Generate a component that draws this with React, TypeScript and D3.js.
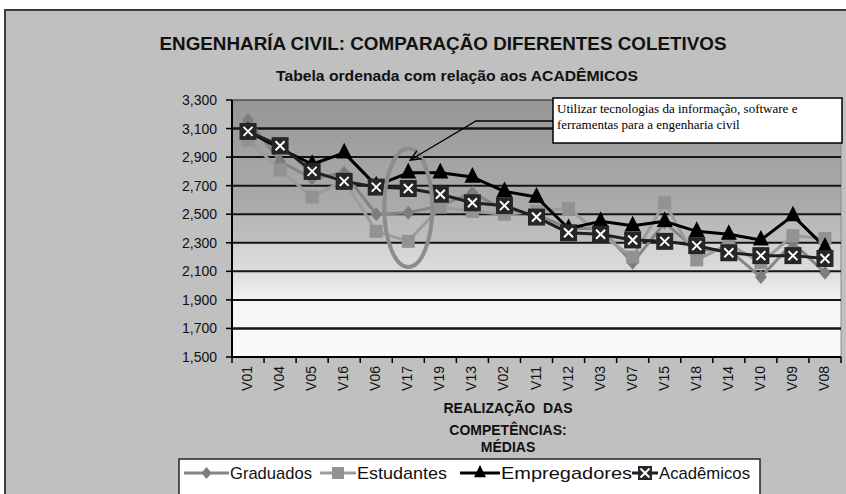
import React from "react";
import * as d3 from "d3";

const categories = ["V01", "V04", "V05", "V16", "V06", "V17", "V19", "V13", "V02", "V11", "V12", "V03", "V07", "V15", "V18", "V14", "V10", "V09", "V08"];
const graduados = [3160, 2870, 2750, 2790, 2500, 2510, 2560, 2650, 2530, 2500, 2400, 2400, 2160, 2440, 2250, 2250, 2060, 2300, 2090];
const estudantes = [3020, 2810, 2620, 2740, 2380, 2310, 2550, 2520, 2500, 2520, 2540, 2360, 2200, 2580, 2180, 2290, 2160, 2350, 2330];
const empregadores = [3080, 2960, 2850, 2930, 2700, 2790, 2790, 2760, 2660, 2620, 2400, 2450, 2420, 2450, 2380, 2360, 2320, 2490, 2270];
const academicos = [3080, 2980, 2800, 2730, 2690, 2680, 2640, 2580, 2560, 2480, 2370, 2360, 2320, 2310, 2280, 2230, 2210, 2210, 2190];
const yTickValues = [1500, 1700, 1900, 2100, 2300, 2500, 2700, 2900, 3100, 3300];
const seriesNames = ["Graduados", "Estudantes", "Empregadores", "Acadêmicos"];

const W = 846;
const H = 494;
const plot = { left: 232, right: 841, top: 100, bottom: 357 };
const narrow = "'Liberation Sans Narrow', 'Arial Narrow', 'Liberation Sans', Arial, sans-serif";
const serif = "'Liberation Serif', 'Times New Roman', serif";

const x = d3.scaleBand<string>().domain(categories).range([plot.left, plot.right]);
const y = d3.scaleLinear().domain([1500, 3300]).range([plot.bottom, plot.top]);
const cx = (c: string) => (x(c) as number) + x.bandwidth() / 2;
const fmt = d3.format(",");

const line = d3
  .line<number>()
  .x((_, i) => cx(categories[i]))
  .y((d) => y(d));

// background bands (value -> grey)
const bgStops: [number, string][] = [
  [3300, "#959595"],
  [2900, "#a3a3a3"],
  [2510, "#ababab"],
  [2490, "#b9b9b9"],
  [2310, "#bebebe"],
  [2290, "#d2d2d2"],
  [2100, "#dcdcdc"],
  [1950, "#ededed"],
  [1900, "#f5f5f5"],
  [1500, "#fafafa"],
];

const Diamond = ({ px, py, s = 7 }: { px: number; py: number; s?: number }) => (
  <path d={`M${px},${py - s}L${px + s * 0.85},${py}L${px},${py + s}L${px - s * 0.85},${py}Z`} fill="#7d7d7d" />
);
const Square = ({ px, py, s = 6.5 }: { px: number; py: number; s?: number }) => (
  <rect x={px - s} y={py - s} width={s * 2} height={s * 2} fill="#929292" />
);
const Triangle = ({ px, py, s = 8 }: { px: number; py: number; s?: number }) => (
  <path d={`M${px},${py - s - 2}L${px + s},${py + s * 0.7}L${px - s},${py + s * 0.7}Z`} fill="#000" />
);
const XBox = ({ px, py, s = 8.5 }: { px: number; py: number; s?: number }) => (
  <g>
    <rect x={px - s} y={py - s} width={s * 2} height={s * 2} fill="#262626" />
    <path d={`M${px - 4.5},${py - 4.5}L${px + 4.5},${py + 4.5}M${px + 4.5},${py - 4.5}L${px - 4.5},${py + 4.5}`} stroke="#fff" strokeWidth={2} />
  </g>
);

const series = [
  { data: graduados, color: "#858585", M: Diamond },
  { data: estudantes, color: "#9c9c9c", M: Square },
  { data: empregadores, color: "#000000", M: Triangle },
  { data: academicos, color: "#1e1e1e", M: XBox },
];

export default function App() {
  const xc17 = cx("V17");
  const legendItems = [
    { name: seriesNames[0], lx: 184, lw: 45, tx: 230, tw: 82, s: series[0] },
    { name: seriesNames[1], lx: 320, lw: 36, tx: 357, tw: 90, s: series[1] },
    { name: seriesNames[2], lx: 460, lw: 40, tx: 501, tw: 131, s: series[2] },
    { name: seriesNames[3], lx: 632, lw: 26, tx: 659, tw: 91, s: series[3] },
  ];
  return (
    <svg width={W} height={H} style={{ position: "absolute", left: 0, top: 0 }}>
      <defs>
        <linearGradient id="bg" x1="0" y1={plot.top} x2="0" y2={plot.bottom} gradientUnits="userSpaceOnUse">
          {bgStops.map(([v, c], i) => (
            <stop key={i} offset={(y(v) - plot.top) / (plot.bottom - plot.top)} stopColor={c} />
          ))}
        </linearGradient>
        <marker id="arrow" viewBox="0 0 10 10" refX="9" refY="5" markerWidth="9" markerHeight="9" orient="auto">
          <path d="M0,1L9,5L0,9" fill="none" stroke="#000" strokeWidth={1.3} />
        </marker>
      </defs>
      <rect width={W} height={H} fill="#fff" />
      <rect x={5} y={10} width={W + 10} height={H} fill="#c0c0c0" stroke="#3c3c3c" strokeWidth={2} />

      {/* titles */}
      <text x={443} y={50} textAnchor="middle" fontFamily={narrow} fontWeight={700} fontSize={19} fill="#111" textLength={567} lengthAdjust="spacingAndGlyphs">
        ENGENHARÍA CIVIL: COMPARAÇÃO DIFERENTES COLETIVOS
      </text>
      <text x={457} y={81} textAnchor="middle" fontFamily={narrow} fontWeight={700} fontSize={15} fill="#111" textLength={362} lengthAdjust="spacingAndGlyphs">
        Tabela ordenada com relação aos ACADÊMICOS
      </text>

      {/* plot area */}
      <rect x={plot.left} y={plot.top} width={plot.right - plot.left} height={plot.bottom - plot.top} fill="url(#bg)" stroke="#8a8a8a" strokeWidth={1} />
      <line x1={plot.left} x2={plot.right} y1={plot.top} y2={plot.top} stroke="#333" strokeWidth={1} />
      {yTickValues.map((v) => (
        <g key={v}>
          {v > 1500 && v < 3300 && (
            <line x1={plot.left} x2={plot.right} y1={y(v)} y2={y(v)} stroke="#141414" strokeWidth={v === 1700 || v === 3100 ? 2.6 : 2} />
          )}
          <line x1={plot.left - 6} x2={plot.left} y1={y(v)} y2={y(v)} stroke="#000" strokeWidth={1.5} />
          <text x={217} y={y(v) + 5} textAnchor="end" fontFamily={narrow} fontSize={14} fill="#111">
            {fmt(v)}
          </text>
        </g>
      ))}
      <line x1={plot.left} x2={plot.left} y1={plot.top} y2={plot.bottom + 1} stroke="#000" strokeWidth={2} />
      <line x1={plot.left} x2={plot.right} y1={plot.bottom} y2={plot.bottom} stroke="#000" strokeWidth={2} />
      {categories.map((c) => (
        <line key={c} x1={x(c)} x2={x(c)} y1={plot.bottom} y2={plot.bottom + 6} stroke="#000" strokeWidth={1.5} />
      ))}
      <line x1={plot.right} x2={plot.right} y1={plot.bottom} y2={plot.bottom + 6} stroke="#000" strokeWidth={1.5} />
      {categories.map((c) => (
        <text key={c} transform={`translate(${cx(c) + 4},${366}) rotate(-90)`} textAnchor="end" fontFamily={narrow} fontSize={14} fill="#111">
          {c}
        </text>
      ))}

      {/* x axis title */}
      <rect x={444} y={392} width={132} height={24} fill="#c0c0c0" />
      <g fontFamily={narrow} fontWeight={700} fontSize={14} fill="#111" textAnchor="middle">
        <text x={508} y={413}>REALIZAÇÃO&#160;&#160;DAS</text>
        <text x={508} y={435}>COMPETÊNCIAS:</text>
        <text x={508} y={452}>MÉDIAS</text>
      </g>

      {/* series */}
      {series.map((s, k) => (
        <path key={k} d={line(s.data) || ""} fill="none" stroke={s.color} strokeWidth={3} strokeLinejoin="round" />
      ))}
      {series.map((s, k) => (
        <g key={k}>
          {s.data.map((v, i) => (
            <s.M key={i} px={cx(categories[i])} py={y(v)} />
          ))}
        </g>
      ))}

      {/* highlight */}
      <ellipse cx={xc17} cy={(y(2960) + y(2130)) / 2} rx={24} ry={(y(2130) - y(2960)) / 2} fill="none" stroke="#8c8c8c" strokeWidth={4} />
      <polyline points={`553,121 476,121 ${xc17 + 2},${y(2880)}`} fill="none" stroke="#000" strokeWidth={1.3} markerEnd="url(#arrow)" />
      <rect x={553} y={98} width={289} height={45} fill="#fff" stroke="#000" strokeWidth={1.5} />
      <g fontFamily={serif} fontSize={13} fill="#000">
        <text x={557} y={113}>Utilizar tecnologias da informação, software e</text>
        <text x={557} y={129}>ferramentas para a engenharia civil</text>
      </g>

      {/* legend */}
      <rect x={179} y={459} width={581} height={45} fill="#fff" stroke="#222" strokeWidth={1.5} />
      {legendItems.map((it) => (
        <g key={it.name}>
          <line x1={it.lx} x2={it.lx + it.lw} y1={473} y2={473} stroke={it.s.color} strokeWidth={3} />
          <it.s.M px={it.lx + it.lw / 2} py={473} s={it.s.M === XBox ? 7 : 6} />
          <text x={it.tx} y={479} fontFamily={narrow} fontSize={17} fill="#111" textLength={it.tw} lengthAdjust="spacingAndGlyphs">
            {it.name}
          </text>
        </g>
      ))}
    </svg>
  );
}
